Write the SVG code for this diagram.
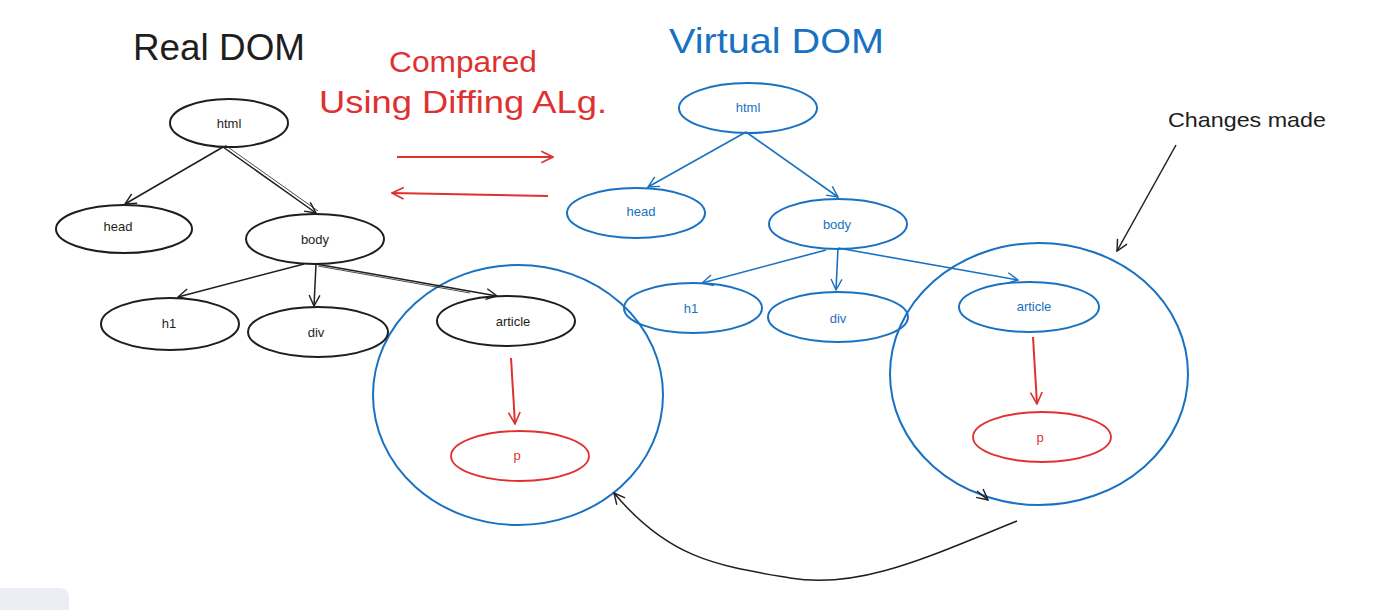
<svg xmlns="http://www.w3.org/2000/svg" width="1384" height="610" viewBox="0 0 1384 610">
<style>
  .lbl { font-family: "Liberation Sans", "DejaVu Sans", sans-serif; font-size: 13px; text-anchor: middle; dominant-baseline: central; }
  .title { font-family: "Liberation Sans", "DejaVu Sans", sans-serif; }
  .blk { fill: none; stroke: #1e1e1e; stroke-width: 2; }
  .blu { fill: none; stroke: #1971c2; stroke-width: 2; }
  .ablk { fill: none; stroke: #1e1e1e; stroke-width: 1.5; marker-end: url(#mb); }
  .ablu { fill: none; stroke: #1971c2; stroke-width: 1.6; marker-end: url(#mu); }
  .ared { fill: none; stroke: #e03131; stroke-width: 2; marker-end: url(#mr); }
</style>
<defs>
  <marker id="mb" viewBox="0 0 12 12" refX="11" refY="6" markerWidth="13" markerHeight="13" markerUnits="userSpaceOnUse" orient="auto">
    <path d="M1,1 L11,6 L1,11" fill="none" stroke="#1e1e1e" stroke-width="1.3"/>
  </marker>
  <marker id="mu" viewBox="0 0 12 12" refX="11" refY="6" markerWidth="13" markerHeight="13" markerUnits="userSpaceOnUse" orient="auto">
    <path d="M1,1 L11,6 L1,11" fill="none" stroke="#1971c2" stroke-width="1.3"/>
  </marker>
  <marker id="mr" viewBox="0 0 12 12" refX="11" refY="6" markerWidth="14" markerHeight="14" markerUnits="userSpaceOnUse" orient="auto">
    <path d="M1,1 L11,6 L1,11" fill="none" stroke="#e03131" stroke-width="1.4"/>
  </marker>
</defs>
<rect width="1384" height="610" fill="#ffffff"/>

<!-- titles -->
<g id="title-real"><text class="title" x="133" y="60" font-size="36" fill="#1e1e1e" textLength="172" lengthAdjust="spacingAndGlyphs">Real DOM</text></g>
<g id="title-virtual"><text class="title" x="669" y="53" font-size="35" fill="#1971c2" textLength="215" lengthAdjust="spacingAndGlyphs">Virtual DOM</text></g>
<g id="title-compared">
  <text class="title" x="389" y="72" font-size="29" fill="#e03131" textLength="148" lengthAdjust="spacingAndGlyphs">Compared</text>
  <text class="title" x="319" y="113" font-size="31" fill="#e03131" textLength="288" lengthAdjust="spacingAndGlyphs">Using Diffing ALg.</text>
</g>
<g id="label-changes"><text class="title" x="1168" y="127" font-size="21" fill="#1e1e1e" textLength="158" lengthAdjust="spacingAndGlyphs">Changes made</text></g>

<!-- grouping circles -->
<g id="circle-left"><ellipse cx="518" cy="395" rx="145" ry="130" class="blu"/></g>
<g id="circle-right"><ellipse cx="1039" cy="374" rx="149" ry="131" class="blu"/></g>

<!-- Real DOM nodes -->
<g id="real-html"><ellipse cx="229" cy="123" rx="59" ry="24" class="blk"/><text class="lbl" x="229" y="123" fill="#1e1e1e">html</text></g>
<g id="real-head"><ellipse cx="124" cy="229" rx="68" ry="24" class="blk"/><text class="lbl" x="118" y="226" fill="#1e1e1e">head</text></g>
<g id="real-body"><ellipse cx="315" cy="239" rx="69" ry="25" class="blk"/><text class="lbl" x="315" y="239" fill="#1e1e1e">body</text></g>
<g id="real-h1"><ellipse cx="170" cy="324" rx="69" ry="26" class="blk"/><text class="lbl" x="169" y="323" fill="#1e1e1e">h1</text></g>
<g id="real-div"><ellipse cx="318" cy="332" rx="70" ry="25" class="blk"/><text class="lbl" x="316" y="332" fill="#1e1e1e">div</text></g>
<g id="real-article"><ellipse cx="506" cy="321" rx="69" ry="25" class="blk"/><text class="lbl" x="513" y="321" fill="#1e1e1e">article</text></g>
<g id="real-p"><ellipse cx="520" cy="456" rx="69" ry="25" fill="none" stroke="#e03131" stroke-width="1.8"/><text class="lbl" x="517" y="455" fill="#e03131">p</text></g>

<!-- Virtual DOM nodes -->
<g id="virt-html"><ellipse cx="748" cy="108" rx="69" ry="25" class="blu"/><text class="lbl" x="748" y="107" fill="#1971c2">html</text></g>
<g id="virt-head"><ellipse cx="636" cy="213" rx="69" ry="25" class="blu"/><text class="lbl" x="641" y="211" fill="#1971c2">head</text></g>
<g id="virt-body"><ellipse cx="838" cy="224" rx="69" ry="25" class="blu"/><text class="lbl" x="837" y="224" fill="#1971c2">body</text></g>
<g id="virt-h1"><ellipse cx="693" cy="308" rx="69" ry="25" class="blu"/><text class="lbl" x="691" y="308" fill="#1971c2">h1</text></g>
<g id="virt-div"><ellipse cx="838" cy="317" rx="70" ry="25" class="blu"/><text class="lbl" x="838" y="318" fill="#1971c2">div</text></g>
<g id="virt-article"><ellipse cx="1029" cy="307" rx="70" ry="25" class="blu"/><text class="lbl" x="1034" y="306" fill="#1971c2">article</text></g>
<g id="virt-p"><ellipse cx="1042" cy="437" rx="69" ry="25" fill="none" stroke="#e03131" stroke-width="1.8"/><text class="lbl" x="1040" y="437" fill="#e03131">p</text></g>

<!-- connectors -->
<g id="connectors">
  <path class="ablk" d="M223,147 L125,204"/>
  <path class="ablk" d="M223,147 L316,213"/>
  <path d="M225,145 L318,211" fill="none" stroke="#1e1e1e" stroke-width="0.8"/>
  <path class="ablk" d="M304,264 L178,297"/>
  <path class="ablk" d="M316,264 L314,306"/>
  <path class="ablk" d="M316,264 L497,296"/>
  <path d="M318,266 L470,293" fill="none" stroke="#1e1e1e" stroke-width="0.8"/>
  <path class="ared" d="M511,358 L515,424"/>

  <path class="ared" d="M397,157 L553,157"/>
  <path class="ared" d="M548,196 L392,193"/>

  <path class="ablu" d="M746,132 L648,187"/>
  <path class="ablu" d="M746,132 L838,197"/>
  <path class="ablu" d="M826,250 L702,283" stroke-width="2.2"/>
  <path class="ablu" d="M838,248 L836,290"/>
  <path class="ablu" d="M838,248 L1018,280" stroke-width="2.2"/>
  <path class="ared" d="M1033,337 L1037,404"/>

  <path class="ablk" d="M1176,145 L1117,251" stroke-width="2"/>
  <path class="ablk" d="M1017,521 C 930,556 860,590 790,578 C 720,566 670,560 614,493" stroke-width="2.2"/>
  <path class="ablk" d="M977,491 L988,500" stroke-width="1.2"/>
</g>

<!-- UI corner -->
<path d="M0,588 L59,588 Q69,588 69,598 L69,610 L0,610 Z" fill="#ececf4"/>
</svg>
